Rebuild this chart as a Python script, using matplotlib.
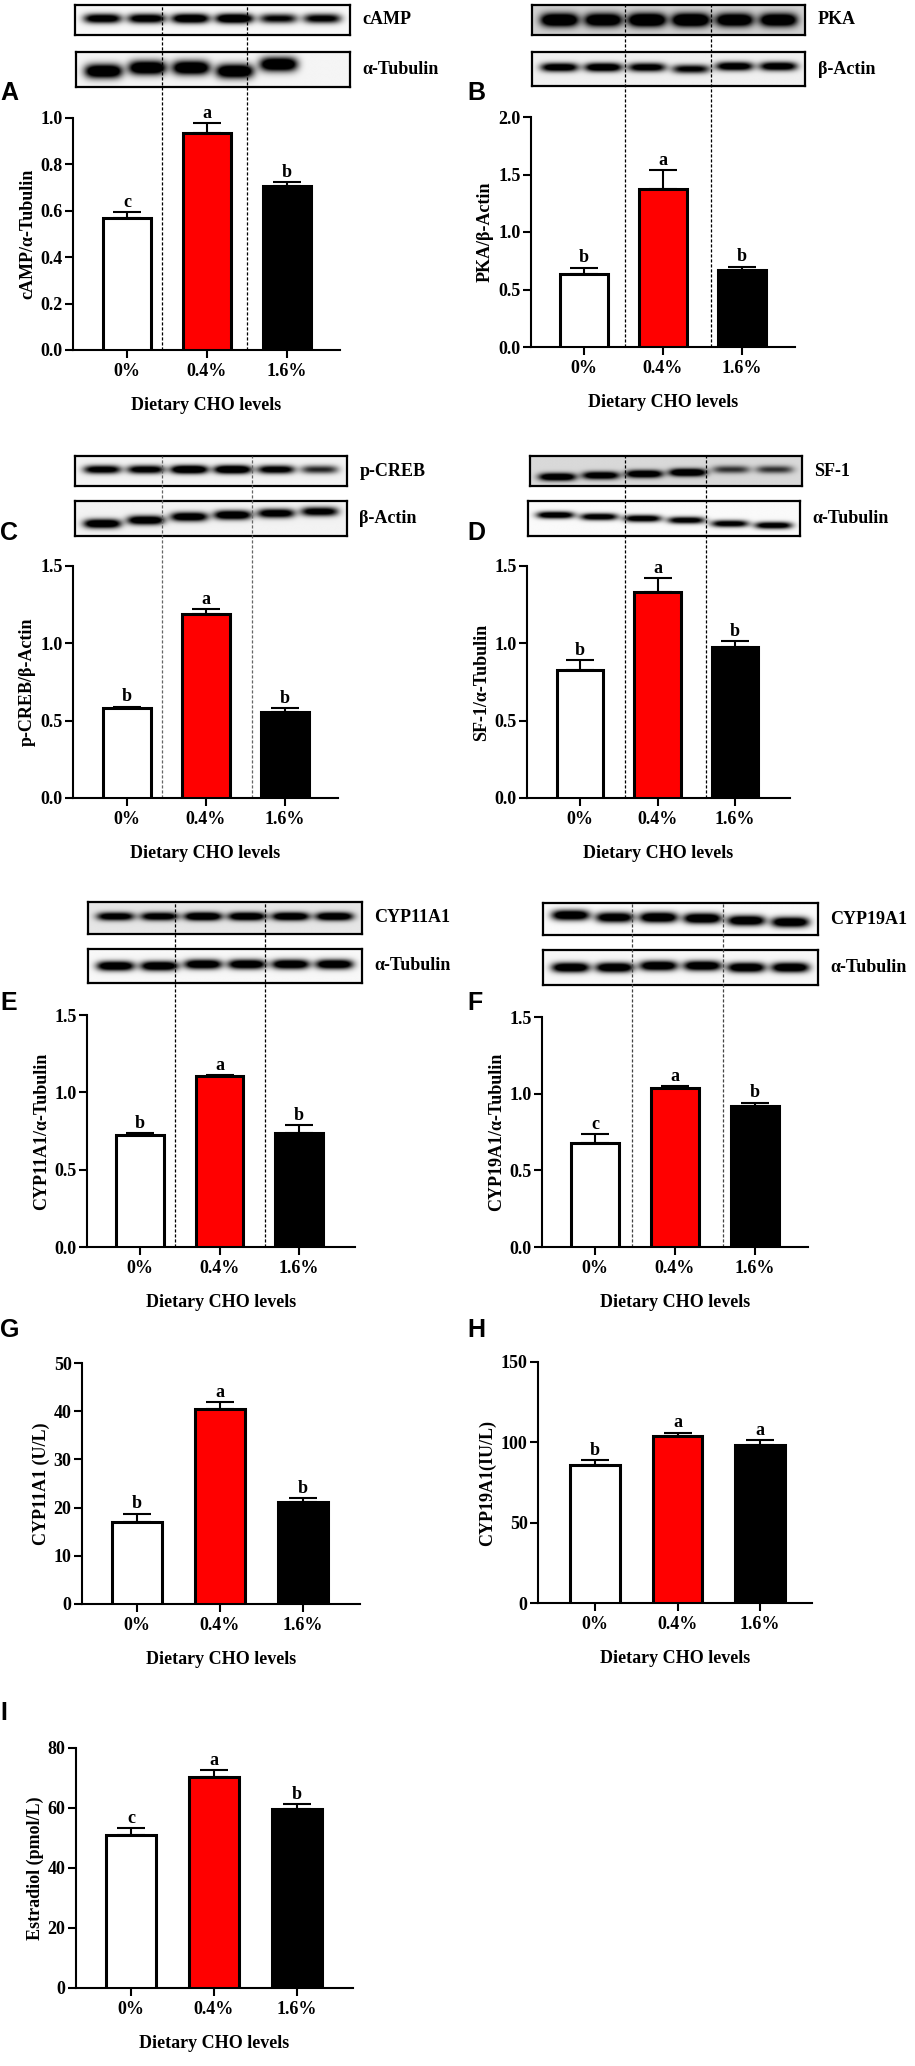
import numpy as np
import matplotlib
matplotlib.use("Agg")
import matplotlib.pyplot as plt

W, H = 915, 2066
plt.rcParams["font.family"] = ["Liberation Serif", "DejaVu Serif"]
plt.rcParams["font.weight"] = "bold"
plt.rcParams["axes.labelweight"] = "bold"

levels = ["0%", "0.4%", "1.6%"]
bar_colors = ["white", "#ff0000", "black"]
xlabel = "Dietary CHO levels"

# bar heights and upper SE
camp_mean = [0.569, 0.935, 0.707]
camp_err = [0.026, 0.043, 0.017]
pka_mean = [0.635, 1.374, 0.67]
pka_err = [0.055, 0.166, 0.03]
creb_mean = [0.582, 1.19, 0.556]
creb_err = [0.008, 0.03, 0.024]
sf1_mean = [0.827, 1.33, 0.976]
sf1_err = [0.063, 0.09, 0.039]
cyp11_mean = [0.724, 1.105, 0.737]
cyp11_err = [0.013, 0.005, 0.052]
cyp19_mean = [0.678, 1.037, 0.92]
cyp19_err = [0.059, 0.013, 0.02]
cyp11_ul_mean = [17.1, 40.5, 21.2]
cyp11_ul_err = [1.6, 1.4, 0.8]
cyp19_iul_mean = [86.0, 104.0, 98.4]
cyp19_iul_err = [3.0, 2.0, 2.8]
e2_mean = [51.0, 70.3, 59.7]
e2_err = [2.3, 2.4, 1.6]

camp_letters = ["c", "a", "b"]
pka_letters = ["b", "a", "b"]
creb_letters = ["b", "a", "b"]
sf1_letters = ["b", "a", "b"]
cyp11_letters = ["b", "a", "b"]
cyp19_letters = ["c", "a", "b"]
cyp11_ul_letters = ["b", "a", "b"]
cyp19_iul_letters = ["b", "a", "a"]
e2_letters = ["c", "a", "b"]

# western blot bands: darkness per lane, vertical band centre, background, band half-height
blot_bands = {
    "cAMP": ([0.85, 0.85, 0.95, 1.0, 0.7, 0.75], [0.55] * 6, 0.97, 0.16),
    "A_tub": ([1.0, 1.0, 1.0, 1.0, 1.0, 0.0], [0.45, 0.55, 0.55, 0.45, 0.65, 0.68], 0.96, 0.2),
    "PKA": ([0.95, 0.9, 1.0, 1.0, 0.9, 0.9], [0.5] * 6, 0.82, 0.22),
    "B_act": ([0.85, 0.9, 0.8, 0.7, 0.85, 0.85], [0.55, 0.55, 0.55, 0.5, 0.58, 0.58], 0.94, 0.13),
    "pCREB": ([0.8, 0.8, 1.0, 1.0, 0.8, 0.55], [0.55] * 6, 0.95, 0.14),
    "C_act": ([0.95, 0.9, 0.9, 0.95, 0.85, 0.8], [0.35, 0.45, 0.55, 0.6, 0.65, 0.7], 0.95, 0.13),
    "SF1": ([0.85, 0.8, 0.85, 0.9, 0.45, 0.45], [0.3, 0.35, 0.4, 0.45, 0.55, 0.55], 0.85, 0.13),
    "D_tub": ([0.9, 0.85, 0.85, 0.8, 0.8, 0.85], [0.6, 0.55, 0.5, 0.45, 0.35, 0.3], 0.98, 0.1),
    "CYP11A1": ([0.8, 0.8, 0.95, 0.9, 0.9, 0.9], [0.55] * 6, 0.9, 0.13),
    "E_tub": ([0.95] * 6, [0.5, 0.5, 0.55, 0.55, 0.55, 0.55], 0.97, 0.14),
    "CYP19A1": ([0.95, 0.9, 1.0, 1.0, 0.95, 0.95], [0.62, 0.55, 0.55, 0.52, 0.45, 0.4], 0.98, 0.16),
    "F_tub": ([0.95] * 6, [0.5, 0.5, 0.55, 0.55, 0.5, 0.5], 0.97, 0.14),
}

fig = plt.figure(figsize=(W / 100, H / 100), dpi=100)


def px_axes(x0, y0, x1, y1):
    return fig.add_axes([x0 / W, 1 - y1 / H, (x1 - x0) / W, (y1 - y0) / H])


def draw_blot(rect, key, label):
    inten, ypos, bg, hh = blot_bands[key]
    ax = px_axes(*rect)
    xs = np.linspace(0, 1, 500)
    ys = np.linspace(0, 1, 80)
    X, Y = np.meshgrid(xs, ys)
    img = np.full(X.shape, bg)
    for i, (k, yc) in enumerate(zip(inten, ypos)):
        xc = 0.1 + 0.16 * i
        band = np.exp(-((X - xc) / 0.068) ** 4 - ((Y - yc) / hh) ** 2)
        img = img - 1.5 * k * band
    img = np.clip(img, 0, 1)
    ax.imshow(img, cmap="gray", vmin=0, vmax=1, extent=(0, 1, 0, 1),
              origin="lower", aspect="auto", interpolation="bilinear")
    ax.set_xticks([])
    ax.set_yticks([])
    for s in ax.spines.values():
        s.set_linewidth(1.6)
    ax.annotate(label, xy=(1, 0.5), xycoords="axes fraction", xytext=(9, 0),
                textcoords="offset points", ha="left", va="center", fontsize=13,
                fontweight="bold")


def draw_panel(rect, c0, step, mean, err, letters, ymax, ystep, ylabel, fmt,
               tag, tag_xy, blots=None, seps=None, sep_top=None, sep_color="black"):
    ax = px_axes(*rect)
    x0, y0, x1, y1 = rect
    x = np.arange(3)
    ax.bar(x, mean, width=0.6, color=bar_colors, edgecolor="black",
           linewidth=2.2, zorder=3)
    ax.errorbar(x, mean, yerr=[np.zeros(3), err], fmt="none", ecolor="black",
                elinewidth=1.5, capsize=10, capthick=1.5, zorder=2)
    for xi, m, e, l in zip(x, mean, err, letters):
        ax.annotate(l, xy=(xi, m + e), xytext=(0, 1), textcoords="offset points",
                    ha="center", va="bottom", fontsize=13, fontweight="bold")
    ax.set_xlim((x0 - c0) / step, (x1 - c0) / step)
    ax.set_ylim(0, ymax)
    ticks = np.arange(0, ymax + ystep / 2, ystep)
    ax.set_yticks(ticks)
    ax.set_yticklabels([fmt.format(t) for t in ticks])
    ax.set_xticks(x)
    ax.set_xticklabels(levels)
    ax.spines["top"].set_visible(False)
    ax.spines["right"].set_visible(False)
    ax.spines["left"].set_linewidth(1.5)
    ax.spines["bottom"].set_linewidth(1.5)
    ax.tick_params(axis="both", length=5.5, width=1.5, labelsize=13)
    ax.tick_params(axis="y", pad=2)
    ax.tick_params(axis="x", pad=4)
    for t in ax.get_xticklabels() + ax.get_yticklabels():
        t.set_fontweight("bold")
    ax.set_xlabel(xlabel, fontsize=13, fontweight="bold", labelpad=12)
    ax.set_ylabel(ylabel, fontsize=13, fontweight="bold", labelpad=3)
    ax.patch.set_alpha(0)
    ax.set_zorder(5)
    if seps is not None:
        top = (y1 - sep_top) / (y1 - y0)
        for sx in seps:
            ax.axvline(sx, ymin=0, ymax=top, color=sep_color, lw=0.9,
                       ls=(0, (2.5, 1.5)), clip_on=False, zorder=1)
    if blots is not None:
        for brect, key, lab in blots:
            draw_blot(brect, key, lab)
    fig.text(tag_xy[0] / W, 1 - tag_xy[1] / H, tag, ha="left", va="center",
             fontsize=18, fontweight="bold", family="Liberation Sans")
    return ax


draw_panel((73, 118, 340, 350), 127, 80, camp_mean, camp_err, camp_letters,
           1.0, 0.2, "cAMP/α-Tubulin", "{:.1f}", "A", (0, 93),
           blots=[((75, 5, 350, 35), "cAMP", "cAMP"),
                  ((76, 52, 350, 87), "A_tub", "α-Tubulin")],
           seps=[0.44, 1.5], sep_top=5)

draw_panel((531, 117, 795, 347), 584, 79, pka_mean, pka_err, pka_letters,
           2.0, 0.5, "PKA/β-Actin", "{:.1f}", "B", (467, 93),
           blots=[((532, 5, 805, 35), "PKA", "PKA"),
                  ((532, 52, 805, 86), "B_act", "β-Actin")],
           seps=[0.52, 1.61], sep_top=5)

draw_panel((73, 566, 338, 798), 127, 79, creb_mean, creb_err, creb_letters,
           1.5, 0.5, "p-CREB/β-Actin", "{:.1f}", "C", (0, 533),
           blots=[((75, 456, 347, 486), "pCREB", "p-CREB"),
                  ((75, 501, 347, 536), "C_act", "β-Actin")],
           seps=[0.44, 1.58], sep_top=456, sep_color="#666666")

draw_panel((527, 566, 790, 798), 580, 77.5, sf1_mean, sf1_err, sf1_letters,
           1.5, 0.5, "SF-1/α-Tubulin", "{:.1f}", "D", (467, 533),
           blots=[((530, 456, 802, 486), "SF1", "SF-1"),
                  ((528, 501, 800, 536), "D_tub", "α-Tubulin")],
           seps=[0.58, 1.63], sep_top=456)

draw_panel((87, 1015, 355, 1247), 140, 79.5, cyp11_mean, cyp11_err, cyp11_letters,
           1.5, 0.5, "CYP11A1/α-Tubulin", "{:.1f}", "E", (0, 1003),
           blots=[((88, 902, 362, 934), "CYP11A1", "CYP11A1"),
                  ((88, 949, 362, 983), "E_tub", "α-Tubulin")],
           seps=[0.44, 1.57], sep_top=902)

draw_panel((542, 1017, 808, 1247), 595, 80, cyp19_mean, cyp19_err, cyp19_letters,
           1.5, 0.5, "CYP19A1/α-Tubulin", "{:.1f}", "F", (467, 1003),
           blots=[((543, 903, 818, 935), "CYP19A1", "CYP19A1"),
                  ((543, 950, 818, 985), "F_tub", "α-Tubulin")],
           seps=[0.46, 1.6], sep_top=903, sep_color="#444444")

draw_panel((82, 1363, 360, 1604), 137, 83, cyp11_ul_mean, cyp11_ul_err,
           cyp11_ul_letters, 50, 10, "CYP11A1 (U/L)", "{:.0f}", "G", (0, 1330))

draw_panel((538, 1362, 812, 1603), 595, 82.5, cyp19_iul_mean, cyp19_iul_err,
           cyp19_iul_letters, 150, 50, "CYP19A1(IU/L)", "{:.0f}", "H", (467, 1330))

draw_panel((76, 1748, 353, 1988), 131, 83, e2_mean, e2_err, e2_letters,
           80, 20, "Estradiol (pmol/L)", "{:.0f}", "I", (0, 1713))

fig.savefig("out.png", dpi=100)
